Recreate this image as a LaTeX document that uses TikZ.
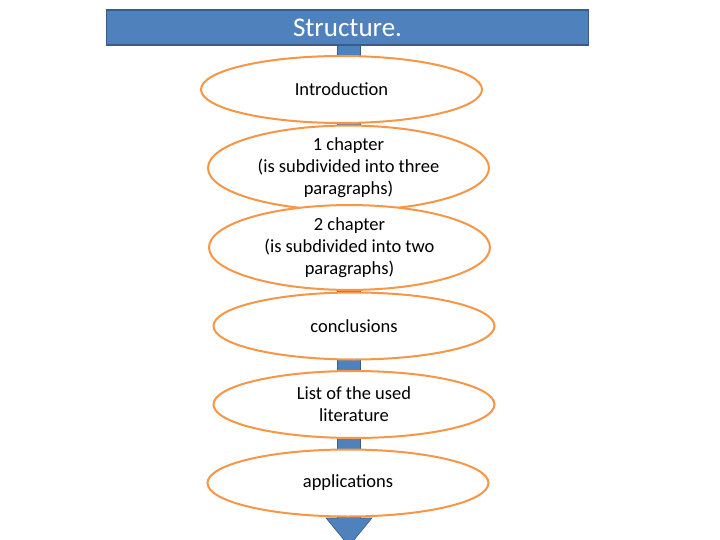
\documentclass[tikz,border=0pt]{standalone}
\usepackage{fontspec}
\setmainfont{Carlito}
\usetikzlibrary{shapes.geometric}
\definecolor{pblue}{HTML}{4F81BD}
\definecolor{pblueedge}{HTML}{385D8A}
\definecolor{porange}{HTML}{F79646}
\tikzset{
  stage/.style={ellipse, draw=porange, line width=2pt, fill=white, inner sep=0pt,
    minimum width=281pt, minimum height=67pt, align=center, font=\fontsize{18.5}{22}\selectfont},
  titlebox/.style={rectangle, draw=pblueedge, line width=1.2pt, fill=pblue, text=white,
    minimum width=482pt, minimum height=35pt, inner sep=0pt, font=\fontsize{27}{30}\selectfont}
}
\begin{document}
\begin{tikzpicture}[x=1pt,y=-1pt]
\useasboundingbox (0,0) rectangle (720,540);
\begin{scope}
\clip (0,0) rectangle (720,540);
% big downward arrow behind the stages
\filldraw[fill=pblue, draw=pblueedge, line width=0.6pt]
  (337.5,45) -- (360.5,45) -- (360.5,518) -- (372,518) -- (349,546) -- (326,518) -- (337.5,518) -- cycle;
\end{scope}
\node[titlebox] (title) at (347.5,27.5) {Structure.};
\node[stage] (intro) at (341.5,89.5) {Introduction};
\node[stage] (ch1) at (348.5,168) {1 chapter\\(is subdivided into three\\paragraphs)};
\node[stage] (ch2) at (349.5,247.5) {2 chapter\\(is subdivided into two\\paragraphs)};
\node[stage] (concl) at (354,326) {conclusions};
\node[stage] (lit) at (354,404.5) {List of the used\\literature};
\node[stage] (app) at (348,483) {applications};
\end{tikzpicture}
\end{document}
